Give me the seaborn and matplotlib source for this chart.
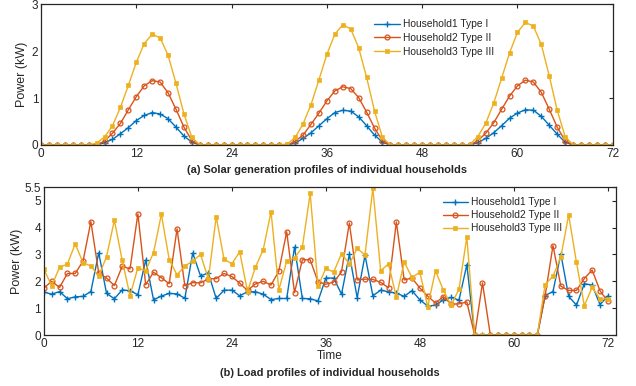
import seaborn as sns
import matplotlib.pyplot as plt
import pandas as pd
import numpy as np

# hourly time axis, 0..72 h
hours = list(range(73))

# (a) solar generation, kW
solar1 = [0, 0, 0, 0, 0, 0, 0, 0, 0.05, 0.12, 0.24, 0.37, 0.52, 0.63, 0.69, 0.66, 0.56, 0.38, 0.19, 0.06,
          0, 0, 0, 0, 0, 0, 0, 0, 0, 0, 0, 0, 0.04, 0.14, 0.26, 0.41, 0.56, 0.69, 0.74, 0.72, 0.60, 0.41,
          0.21, 0.06, 0, 0, 0, 0, 0, 0, 0, 0, 0, 0, 0, 0.05, 0.14, 0.26, 0.41, 0.57, 0.68, 0.75, 0.74,
          0.61, 0.42, 0.23, 0.06, 0, 0, 0, 0, 0, 0]
solar2 = [0, 0, 0, 0, 0, 0, 0, 0.01, 0.08, 0.25, 0.46, 0.75, 1.03, 1.26, 1.37, 1.34, 1.11, 0.76, 0.38, 0.09,
          0, 0, 0, 0, 0, 0, 0, 0, 0, 0, 0, 0, 0.08, 0.21, 0.44, 0.68, 0.94, 1.15, 1.24, 1.20, 1.01, 0.70,
          0.36, 0.09, 0, 0, 0, 0, 0, 0, 0, 0, 0, 0, 0, 0.09, 0.25, 0.47, 0.76, 1.04, 1.26, 1.38, 1.34,
          1.12, 0.76, 0.38, 0.09, 0, 0, 0, 0, 0, 0]
solar3 = [0, 0, 0, 0, 0, 0, 0, 0.04, 0.17, 0.41, 0.80, 1.27, 1.76, 2.16, 2.36, 2.28, 1.91, 1.31, 0.66, 0.16,
          0, 0, 0, 0, 0, 0, 0, 0, 0, 0, 0, 0.02, 0.16, 0.45, 0.86, 1.39, 1.93, 2.36, 2.56, 2.47, 2.07, 1.44,
          0.72, 0.16, 0, 0, 0, 0, 0, 0, 0, 0, 0, 0, 0.01, 0.18, 0.46, 0.89, 1.42, 1.96, 2.40, 2.61, 2.53,
          2.14, 1.47, 0.74, 0.18, 0, 0, 0, 0, 0, 0]

# (b) load, kW
load1 = [1.60, 1.52, 1.62, 1.35, 1.42, 1.44, 1.62, 3.06, 1.55, 1.35, 1.68, 1.65, 1.50, 2.79, 1.31, 1.45,
         1.55, 1.53, 1.37, 3.05, 2.20, 2.31, 1.36, 1.67, 1.67, 1.46, 1.61, 1.61, 1.52, 1.32, 1.36, 1.36,
         3.27, 1.36, 1.35, 1.27, 2.12, 2.12, 1.52, 3.00, 1.39, 2.97, 1.46, 1.67, 1.61, 1.56, 1.44, 1.65,
         1.31, 1.08, 1.11, 1.31, 1.40, 1.30, 2.62, 0, 0, 0, 0, 0, 0, 0, 0, 0, 1.47, 1.62, 3.02, 1.44,
         1.11, 1.91, 1.86, 1.13, 1.45]
load2 = [1.75, 2.00, 1.77, 2.29, 2.29, 2.75, 4.22, 2.31, 2.12, 1.84, 2.56, 2.46, 4.51, 1.87, 2.34, 2.13,
         1.91, 3.95, 1.83, 1.95, 1.94, 2.09, 2.10, 2.29, 2.18, 1.93, 1.66, 1.90, 2.00, 1.86, 2.38, 3.84,
         1.58, 2.80, 2.80, 1.98, 1.89, 1.97, 2.35, 4.17, 2.05, 2.08, 2.07, 1.96, 1.76, 4.21, 2.05, 2.12,
         1.75, 1.45, 1.19, 1.43, 1.15, 1.16, 1.23, 0, 1.94, 0, 0, 0, 0, 0, 0, 0, 1.47, 3.33, 1.82, 1.66,
         1.66, 2.10, 2.42, 1.65, 1.25]
load3 = [2.45, 1.83, 2.52, 2.64, 3.39, 2.69, 2.57, 2.19, 2.92, 4.27, 2.78, 1.47, 2.50, 2.39, 3.07, 4.49,
         2.81, 2.24, 2.57, 2.75, 3.00, 2.08, 4.40, 2.82, 2.65, 3.10, 1.62, 2.52, 3.17, 4.59, 1.68, 2.75,
         2.87, 3.27, 5.27, 1.81, 2.48, 2.34, 3.03, 2.65, 3.22, 2.98, 5.46, 2.39, 2.65, 1.41, 2.72, 2.14,
         2.34, 1.06, 2.39, 1.67, 1.11, 1.71, 3.65, 0, 0, 0, 0, 0, 0, 0, 0, 0, 1.88, 2.19, 2.90, 4.47,
         2.70, 1.09, 1.78, 1.34, 1.35]

labels = ['Household1 Type I', 'Household2 Type II', 'Household3 Type III']
colors = ['#0072BD', '#D95319', '#EDB120']

sns.set_theme(style="white")
plt.rcParams['font.family'] = ['Liberation Sans', 'DejaVu Sans']
plt.rcParams['axes.edgecolor'] = '#262626'
plt.rcParams['text.color'] = '#262626'
plt.rcParams['xtick.color'] = '#262626'
plt.rcParams['ytick.color'] = '#262626'

fig = plt.figure(figsize=(6.36, 3.86), dpi=100)
ax1 = fig.add_axes([0.0645, 0.6244, 0.899, 0.365])
ax2 = fig.add_axes([0.069, 0.132, 0.899, 0.383])

def draw(ax, series):
    mk = [dict(marker='+', markersize=4, mew=1),
          dict(marker='o', markersize=3.5, mfc='none', mew=0.9),
          dict(marker='s', markersize=2.8, mew=0.5)]
    for vals, lab, c, m in zip(series, labels, colors, mk):
        sns.lineplot(x=hours, y=vals, ax=ax, color=c, label=lab, linewidth=1, mec=c, **m)
    ax.tick_params(direction='in', top=True, right=True, length=3, width=0.8, labelsize=8.5, pad=2)
    for s in ax.spines.values():
        s.set_linewidth(0.9)
    ax.set_xticks(range(0, 73, 12))
    ax.set_ylabel('Power (kW)', fontsize=9)

draw(ax1, [solar1, solar2, solar3])
ax1.set_xlim(0, 72)
ax1.set_ylim(0, 3)
ax1.set_yticks([0, 1, 2, 3])
ax1.set_xlabel('')
ax1.yaxis.set_label_coords(-0.022, 0.5)
ax1.legend(loc='upper left', bbox_to_anchor=(0.575, 0.92), frameon=False, fontsize=7.4,
           handlelength=2.5, handletextpad=0.3, labelspacing=0.35, borderaxespad=0)

draw(ax2, [load1, load2, load3])
ax2.set_xlim(0, 73)
ax2.set_ylim(0, 5.5)
ax2.set_yticks([0, 1, 2, 3, 4, 5, 5.5])
ax2.set_yticklabels(['0', '1', '2', '3', '4', '5', '5.5'])
ax2.set_xlabel('Time', fontsize=8.5, labelpad=0)
ax2.yaxis.set_label_coords(-0.037, 0.5)
ax2.legend(loc='upper left', bbox_to_anchor=(0.69, 0.96), frameon=False, fontsize=7.4,
           handlelength=2.5, handletextpad=0.3, labelspacing=0.3, borderaxespad=0)

fig.text(0.514, 1 - 170 / 386, '(a) Solar generation profiles of individual households',
         ha='center', va='center', fontsize=7.9, fontweight='bold')
fig.text(0.518, 1 - 373 / 386, '(b) Load profiles of individual households',
         ha='center', va='center', fontsize=7.9, fontweight='bold')

fig.savefig('out.png', dpi=100)
